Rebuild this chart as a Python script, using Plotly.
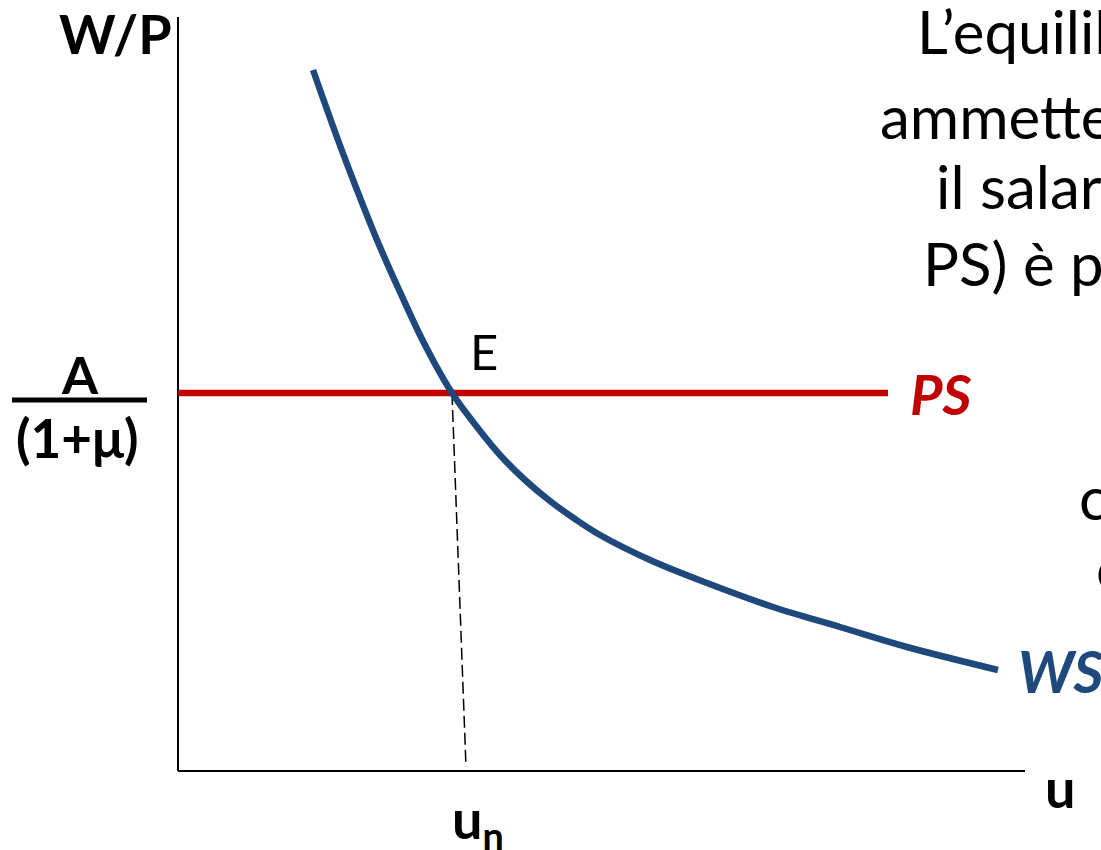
import plotly.graph_objects as go

# ---- data (model units: u = unemployment, W/P = real wage) ----
ws_u = [1.35, 1.60, 1.79, 1.99, 2.22, 2.47, 2.74, 2.99, 3.22, 3.47, 3.72, 3.97, 4.22, 4.72, 5.29, 5.95, 6.62, 7.29, 8.20]
ws_w = [7.01, 6.31, 5.81, 5.31, 4.79, 4.26, 3.78, 3.44, 3.16, 2.91, 2.70, 2.52, 2.36, 2.11, 1.88, 1.64, 1.44, 1.24, 1.01]
ps_u = [0.0, 7.10]
ps_w = [3.78, 3.78]
eq_u = [2.74, 2.88]          # dashed drop line from E to u_n
eq_w = [3.78, 0.04]
axis_u_max = 8.47
axis_w_max = 7.54

WS_COLOR = "#1F497D"
PS_COLOR = "#C00000"
FONT = "Lato"

fig = go.Figure()

# axes
fig.add_trace(go.Scatter(x=[0, 0], y=[0, axis_w_max], mode="lines",
                         line=dict(color="black", width=2), hoverinfo="skip"))
fig.add_trace(go.Scatter(x=[0, axis_u_max], y=[0, 0], mode="lines",
                         line=dict(color="black", width=2), hoverinfo="skip"))
# dashed line
fig.add_trace(go.Scatter(x=eq_u, y=eq_w, mode="lines",
                         line=dict(color="black", width=1.5, dash="12px,5px"), hoverinfo="skip"))
# PS
fig.add_trace(go.Scatter(x=ps_u, y=ps_w, mode="lines",
                         line=dict(color=PS_COLOR, width=6.5), hoverinfo="skip"))
# WS
fig.add_trace(go.Scatter(x=ws_u, y=ws_w, mode="lines",
                         line=dict(color=WS_COLOR, width=6.5, shape="spline", smoothing=1.0),
                         hoverinfo="skip"))

def px2u(px):
    return (px - 178) / 100.0

def py2w(py):
    return (771 - py) / 100.0

ann = []
def add(text, px, py, size, color="black", bold=False, italic=False, xanchor="center"):
    t = text
    if bold:
        t = "<b>" + t + "</b>"
    if italic:
        t = "<i>" + t + "</i>"
    ann.append(dict(x=px2u(px), y=py2w(py), xref="x", yref="y", text=t, showarrow=False,
                    xanchor=xanchor, yanchor="middle",
                    font=dict(family=FONT, size=size, color=color)))

add("W/P", 115, 33, 54, bold=True)
add("A", 80, 374, 52, bold=True)
add("(1+μ)", 77, 437, 53, bold=True)
add("E", 484, 351, 49)
add("PS", 941, 393, 56, color=PS_COLOR, bold=True, italic=True)
add("WS", 1016, 670, 58, color=WS_COLOR, bold=True, italic=True, xanchor="left")
add("u", 1060, 787, 54, bold=True)
add("u<sub>n</sub>", 478, 822, 54, bold=True)

# right-hand slide text (cut off by the edge)
add("L’equilib", 915, 31, 60, xanchor="left")
add("ammette", 878, 116, 60, xanchor="left")
add("il salar", 934, 186, 60, xanchor="left")
add("PS) è p", 921, 263, 60, xanchor="left")
add("c", 1077, 497, 60, xanchor="left")
add("e", 1094, 568, 60, xanchor="left")

fig.update_layout(
    width=1101, height=850, autosize=False,
    margin=dict(l=0, r=0, t=0, b=0),
    paper_bgcolor="white", plot_bgcolor="white",
    showlegend=False,
    xaxis=dict(range=[-1.78, 9.23], visible=False, fixedrange=True),
    yaxis=dict(range=[-0.79, 7.71], visible=False, fixedrange=True),
    annotations=ann,
    shapes=[dict(type="line", xref="x", yref="y",
                 x0=px2u(12), x1=px2u(147), y0=py2w(400), y1=py2w(400),
                 line=dict(color="black", width=5))],
)

fig.write_html("out.html", config={"displayModeBar": False},
               post_script="document.body.style.margin='0px';document.body.style.overflow='hidden';")
